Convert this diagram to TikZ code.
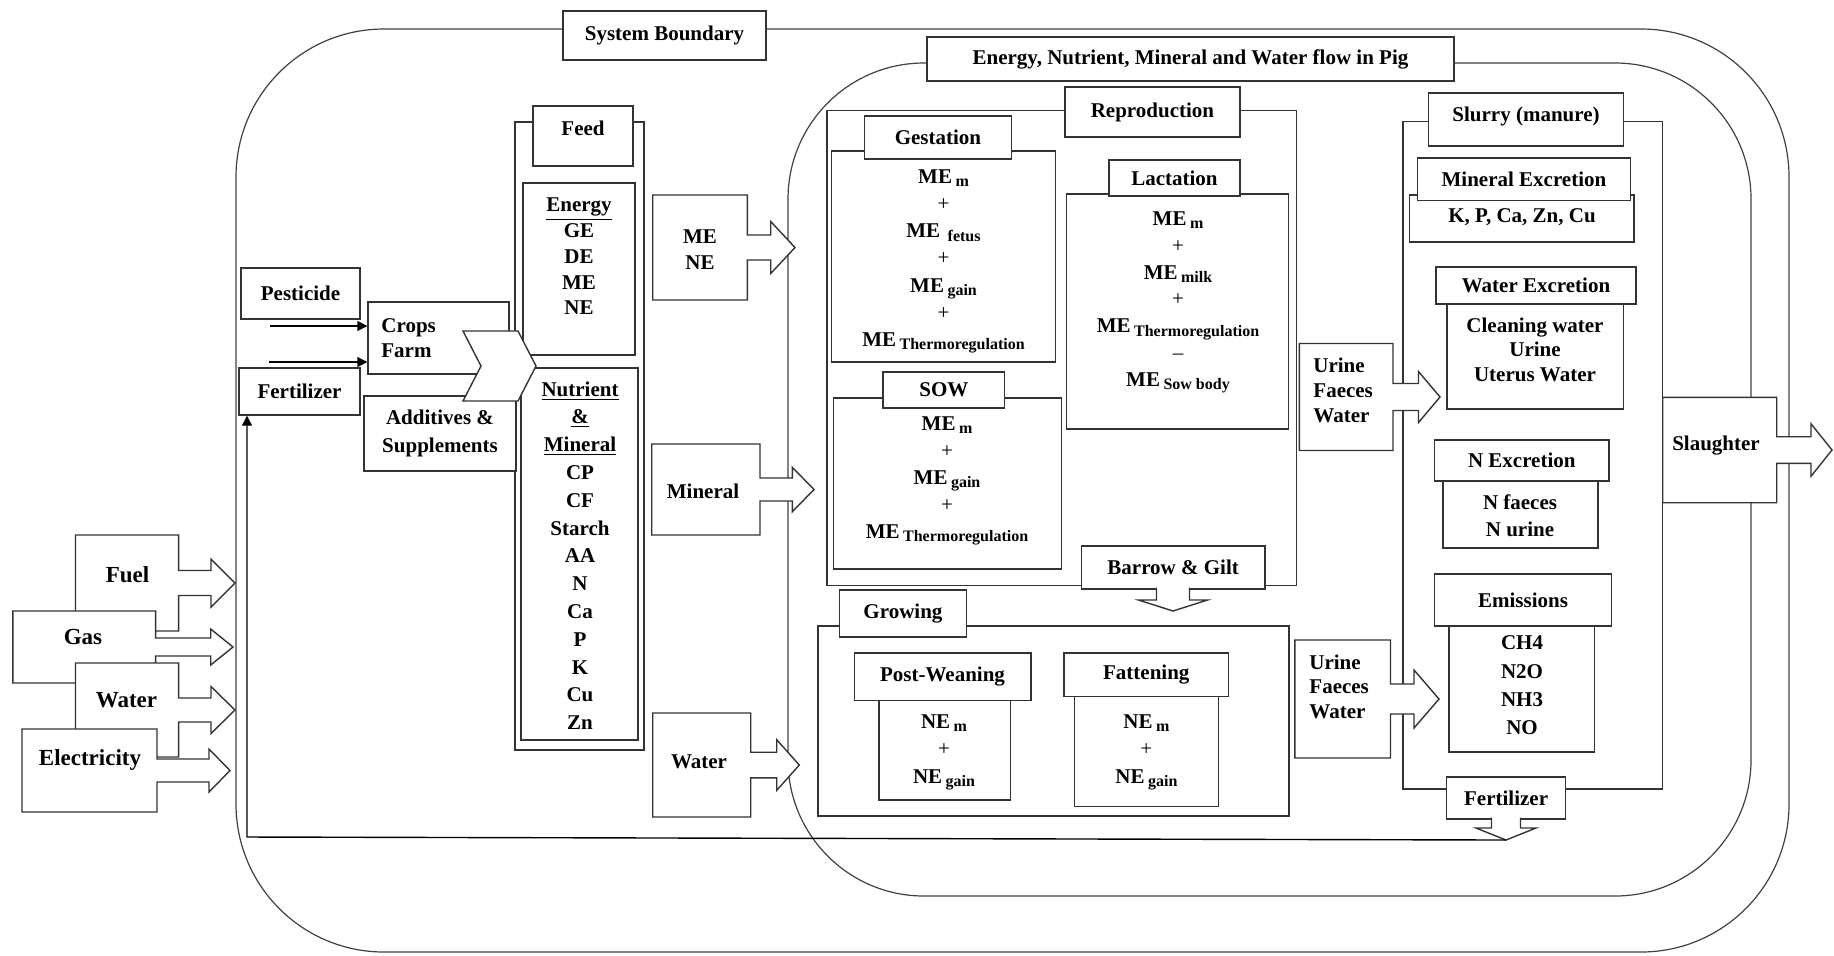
\documentclass[tikz,border=0pt]{standalone}
\usepackage{fontspec}
\setmainfont{Liberation Serif}
\usetikzlibrary{positioning,arrows.meta,fit}
\newcommand{\mainsize}{\fontsize{10.5}{12.5}\selectfont}
\newcommand{\lowtxt}[1]{\,\raisebox{-0.35ex}{\fontsize{8}{9}\selectfont #1}}
\newcommand{\pl}{{\mdseries +}}
% box with a block arrow on its right side:
% left, right, centre y, half height, shaft half, head base, head half, tip
\newcommand{\blockarrow}[8]{%
  \filldraw[callout] (#1,#3-#4) -- (#2,#3-#4) -- (#2,#3-#5) -- (#6,#3-#5)
    -- (#6,#3-#7) -- (#8,#3) -- (#6,#3+#7) -- (#6,#3+#5) -- (#2,#3+#5)
    -- (#2,#3+#4) -- (#1,#3+#4) -- cycle;}
% block arrow pointing down from the bottom of a box:
% centre x, box bottom, shaft half, head y, head half, tip y
\newcommand{\downblock}[6]{%
  \filldraw[callout] (#1-#3,#2-1.5) -- (#1-#3,#4) -- (#1-#5,#4) -- (#1,#6)
    -- (#1+#5,#4) -- (#1+#3,#4) -- (#1+#3,#2-1.5);}
\tikzset{
  part/.style={draw=black!80, fill=white, line width=0.7pt, inner sep=0pt},
  rim/.style={draw=black!75, line width=0.6pt},
  callout/.style={draw=black!80, fill=white, line width=0.7pt},
  words/.style={inner sep=0pt, align=center, font=\mainsize\bfseries},
  linegap/.style={font=\fontsize{10.5}{#1}\selectfont\bfseries},
  boxtext/.style={label={[words]center:{#1}}},
  inlabel/.style={words, font=\fontsize{11.5}{13}\selectfont\bfseries},
  flow/.style={-{Triangle[length=5pt,width=5pt]}, line width=0.7pt, draw=black},
}

\begin{document}
\begin{tikzpicture}[x=0.5pt,y=-0.5pt]
\useasboundingbox (0,0) rectangle (1834,955);
% the two boundaries
\draw[rim, rounded corners=74pt] (236,29) rectangle (1789,952);
\node[part, line width=1.4pt, fit={(563,11) (766,60)}, boxtext=System Boundary] (sysb) {};
\draw[rim, rounded corners=68pt] (788,63) rectangle (1751,896);
\node[part, line width=1.1pt, fit={(927,37) (1454,81)},
  boxtext={Energy, Nutrient, Mineral and Water flow in Pig}] (pigb) {};

% crops and feed
\node[part, fit={(241,268) (360,319)}, boxtext=Pesticide] (pest) {};
\node[part, fit={(239,368) (360,415)}, boxtext=Fertilizer] (fert) {};
\node[part, fit={(368,302) (509,374)}] (crops) {};
\node[words, anchor=west, align=left, linegap=12.5pt] (croptxt) at (381,338) {Crops\\Farm};
\coordinate (pa) at (270,326);
\coordinate (fa) at (269,362);
\draw[flow] (pa) -- (pa -| crops.west);
\draw[flow] (fa) -- (fa -| crops.west);
\node[part, fit={(515,122) (644,750)}] (feedcol) {};
\node[part, fit={(533,106) (633,166)}] (feedtag) {};
\node[words] (feedtxt) at (583,128) {Feed};
\node[part, fit={(523,183) (635,355)}] (energy) {};
\node[words, linegap=12.85pt] (energytxt) at (579,256.5) {\underline{Energy}\\GE\\DE\\ME\\NE};
\node[part, fit={(521,368) (638,740)}] (nutr) {};
\node[words, linegap=13.9pt] (nutrtxt) at (580,555.5)
  {\underline{Nutrient}\\\underline{\&}\\\underline{Mineral}\\CP\\CF\\Starch\\AA\\N\\Ca\\P\\K\\Cu\\Zn};
\node[part, fit={(364,396) (516,471)},
  label={[words,linegap=14pt]center:{Additives \&\\Supplements}}] (addit) {};
\filldraw[callout] (463,331) -- (518,331) -- (536,366) -- (518,401) -- (463,401) -- (481,366) -- cycle;

% energy inputs
\blockarrow{75.5}{178.6}{583}{48}{12.5}{211}{24}{235}
\node[inlabel] (fuel) at (127.5,575) {Fuel};
\blockarrow{12.8}{155.6}{647}{36}{9}{210.7}{18}{233}
\node[inlabel] (gas) at (83,637) {Gas};
\blockarrow{75.5}{178.6}{710}{47}{12}{211}{23.5}{235}
\node[inlabel] (water) at (126.5,700) {Water};
\blockarrow{22}{157}{770.5}{41.5}{11.5}{209}{21.5}{230}
\node[inlabel] (elec) at (90,760) {Electricity};

% what the pig takes in
\blockarrow{652.7}{747.3}{247.5}{52.5}{12.5}{770.7}{26}{795}
\node[words, linegap=13pt] (mene) at (700,249.5) {ME\\NE};
\blockarrow{651.7}{760}{489.5}{45.5}{11.5}{792.3}{22.2}{814}
\node[words] (minin) at (703,491) {Mineral};
\blockarrow{652.7}{750.7}{765}{52}{12.8}{776.7}{25.3}{799.3}
\node[words] (watin) at (699,762) {Water};

% reproduction
\node[part, fit={(826.8,110.7) (1296.4,585.7)}] (repro) {};
\node[part, fit={(1064.8,87) (1240.1,137)}, boxtext=Reproduction] (reprotag) {};
\node[part, fit={(831.4,151) (1055.6,362)}] (gest) {};
\node[words, linegap=13.6pt] (gesttxt) at (943.5,261.5)
  {ME\lowtxt{m}\\\pl\\ME\lowtxt{\ fetus}\\\pl\\ME\lowtxt{gain}\\\pl\\ME\lowtxt{Thermoregulation}};
\node[part, fit={(864.3,116) (1011.6,159)}, boxtext=Gestation] (gesttag) {};
\node[part, fit={(833.7,398) (1061.4,569)}] (sow) {};
\node[words, linegap=13.5pt] (sowtxt) at (947,481)
  {ME\lowtxt{m}\\\pl\\ME\lowtxt{gain}\\\pl\\ME\lowtxt{Thermoregulation}};
\node[part, fit={(883,372) (1004.7,408)}, boxtext=SOW] (sowtag) {};
\node[part, fit={(1066.7,194) (1288.7,429)}] (lact) {};
\node[words, linegap=13.4pt] (lacttxt) at (1178,302.5)
  {ME\lowtxt{m}\\\pl\\ME\lowtxt{milk}\\\pl\\ME\lowtxt{Thermoregulation}\\{\mdseries --}\\ME\lowtxt{Sow body}};
\node[part, fit={(1108.8,160) (1240.1,196)}, boxtext=Lactation] (lacttag) {};
\node[part, fit={(1081.3,546) (1265,589)}, boxtext=Barrow \& Gilt] (barrow) {};
\downblock{1173}{589}{16.5}{600}{34.5}{611}

% growing
\node[part, fit={(818,626) (1289,816)}] (grow) {};
\node[part, fit={(839.4,590) (966.5,637)}, boxtext=Growing] (growtag) {};
\node[part, fit={(879,700.7) (1010.5,800)}] (postw) {};
\node[words, linegap=13.75pt] (postwtxt) at (944,752.5) {NE\lowtxt{m}\\\pl\\NE\lowtxt{gain}};
\node[part, fit={(854.3,653) (1030.8,700.7)}, boxtext=Post-Weaning] (postwtag) {};
\node[part, fit={(1074.4,696.7) (1218.3,806.7)}] (fatt) {};
\node[words, linegap=13.75pt] (fatttxt) at (1146.4,752.5) {NE\lowtxt{m}\\\pl\\NE\lowtxt{gain}};
\node[part, fit={(1064,653) (1228.6,696.7)}, boxtext=Fattening] (fatttag) {};

% slurry
\node[part, fit={(1403,121.7) (1662.7,789)}] (slurry) {};
\node[part, fit={(1428.7,93) (1623.6,146)}] (slurrytag) {};
\node[words] (slurrytxt) at (1526,116) {Slurry (manure)};
\node[part, fit={(1409.7,195) (1633.8,242)}] (minex) {};
\node[words] (minextxt) at (1522,217) {K, P, Ca, Zn, Cu};
\node[part, fit={(1417.5,158) (1630.4,200.7)}, boxtext=Mineral Excretion] (minextag) {};
\node[part, fit={(1447,304) (1623.6,409)}] (watex) {};
\node[words, linegap=12.25pt] (watextxt) at (1535,349.5) {Cleaning water\\Urine\\Uterus Water};
\node[part, fit={(1436,267) (1636,304)}, boxtext=Water Excretion] (watextag) {};
\node[part, fit={(1443,480) (1598,548)}] (nex) {};
\node[words, linegap=13.5pt] (nextxt) at (1520,515.5) {N faeces\\N urine};
\node[part, fit={(1434.5,440) (1609,481)}, boxtext=N Excretion] (nextag) {};
\node[part, fit={(1449,626) (1594.6,752)}] (emis) {};
\node[words, linegap=14.15pt] (emistxt) at (1522,685.5) {CH4\\N2O\\NH3\\NO};
\node[part, fit={(1434.5,574) (1611.6,626)}, boxtext=Emissions] (emistag) {};
\node[part, fit={(1446.5,777) (1565.7,819)}, boxtext=Fertilizer] (fertout) {};
\downblock{1506}{819}{14.5}{828}{30}{840}

% excreta into the slurry
\blockarrow{1299.4}{1393}{397}{53.5}{13.5}{1418.5}{25.5}{1440}
\node[words, anchor=west, align=left, linegap=12.5pt] (ufw1) at (1313,390) {Urine\\Faeces\\Water};
\blockarrow{1294.8}{1390.5}{699}{59}{15}{1414}{29}{1439}
\node[words, anchor=west, align=left, linegap=12.25pt] (ufw2) at (1309,686.5) {Urine\\Faeces\\Water};

% out of the system
\blockarrow{1662.7}{1776.7}{450}{52.7}{13.3}{1811}{26.2}{1832}
\node[words] (slaught) at (1716,446) {Slaughter};

% manure back to the fields
\coordinate (fbtip) at (1506,840);
\coordinate (fbturn) at (247,837);
\draw[flow] (fbtip) -- (fbturn) -- (fbturn |- fert.south);
\end{tikzpicture}
\end{document}
